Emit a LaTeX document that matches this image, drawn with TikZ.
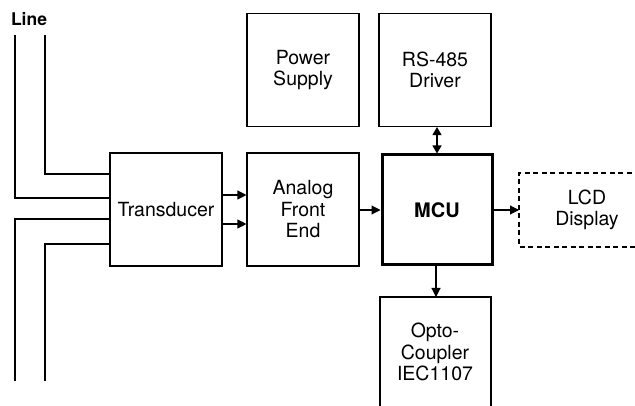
\documentclass[tikz,border=0pt]{standalone}
\usepackage{fontspec}
\setmainfont{TeX Gyre Heros}
\usetikzlibrary{arrows.meta}
\begin{document}
\begin{tikzpicture}[x=1pt,y=-1pt,
  blk/.style={draw=black,line width=1.1pt,minimum width=112pt,minimum height=113pt,inner sep=0pt,align=center,font=\fontsize{19.5}{21.5}\selectfont},
  txt/.style={inner sep=0pt,align=center,font=\fontsize{19.5}{21.5}\selectfont},
  wire/.style={line width=1.1pt},
  arr/.style={line width=1.1pt,-{Triangle[length=9pt,width=9pt]}},
  darr/.style={line width=1.1pt,{Triangle[length=8pt,width=9pt]}-{Triangle[length=8pt,width=9pt]}}]
\useasboundingbox (0,0) rectangle (635,406);
% blocks
\node[blk] (tr) at (166,209.5) {Transducer};
\node[blk] (afe) at (303,209.5) {Analog\\Front\\End};
\node[blk] (ps) at (303,70) {Power\\Supply};
\node[blk] (rs) at (435,70) {RS-485\\Driver};
\node[blk,line width=3pt,minimum width=110pt,minimum height=110pt,font=\fontsize{20}{24}\selectfont\bfseries] (mcu) at (437,210) {MCU};
% LCD (open right, dashed)
\node[txt] (lcd) at (587,210) {LCD\\Display};
\coordinate (lcdw) at (519,210);
\draw[line width=2pt,dash pattern=on 5pt off 3.5pt] (640,173) -- (519,173) -- (519,247) -- (640,247);
% Opto (open bottom)
\node[txt] (opto) at (435,352) {Opto-\\Coupler\\IEC1107};
\coordinate (optotop) at (436,297);
\draw[wire] (380,410) -- (380,297) -- (491,297) -- (491,410);
% Line label and wires
\node[inner sep=0pt,font=\fontsize{17.5}{20}\selectfont\bfseries] (line) at (29,19) {Line};
\coordinate (a1) at (15,35);
\coordinate (a2) at (45,35);
\coordinate (b1) at (15,381);
\coordinate (b2) at (45,381);
\draw[wire] (a2) |- (tr.west |- 0,174);
\draw[wire] (a1) |- (tr.west |- 0,198);
\draw[wire] (b1) |- (tr.west |- 0,219);
\draw[wire] (b2) |- (tr.west |- 0,244);
% arrows
\draw[arr] (tr.east |- 0,195) -- (afe.west |- 0,195);
\draw[arr] (tr.east |- 0,224) -- (afe.west |- 0,224);
\draw[arr] (afe.east |- mcu.west) -- (mcu.west);
\draw[arr] (mcu.east) -- (lcdw);
\draw[arr] (mcu.south -| optotop) -- (optotop);
\draw[darr] (rs.south -| mcu.north) -- (mcu.north);
\end{tikzpicture}
\end{document}
